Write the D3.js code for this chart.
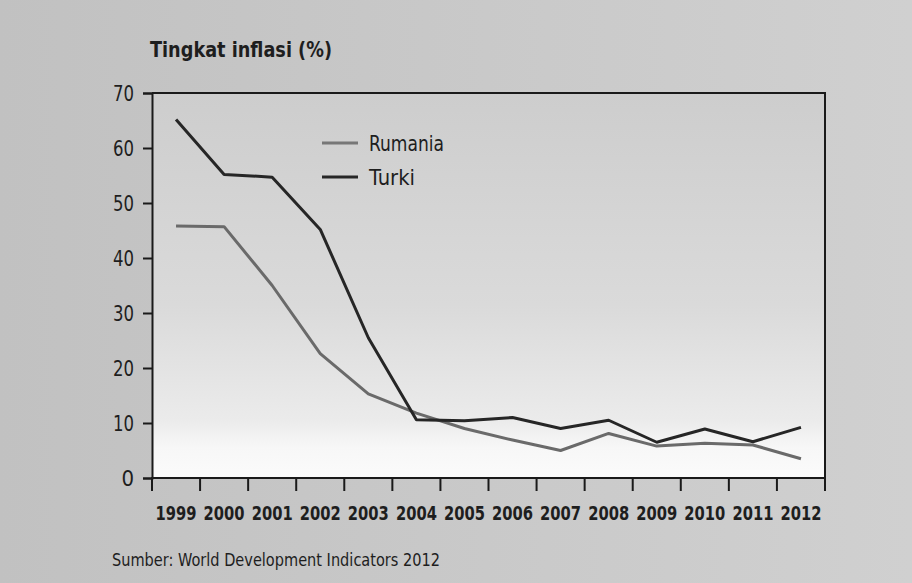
<!DOCTYPE html>
<meta charset="utf-8">
<style>
  body { margin: 0; background: #c8c8c8; }
  text { font-family: "DejaVu Sans Condensed", "DejaVu Sans", sans-serif; font-stretch: condensed; fill: #1e1e1e; }
</style>
<body>
  <div id="chart"></div>
  <script src="https://d3js.org/d3.v7.min.js"></script>
  <script>
    // data
    var years = ["1999", "2000", "2001", "2002", "2003", "2004", "2005", "2006", "2007", "2008", "2009", "2010", "2011", "2012"];
    var rumania = [45.8, 45.7, 35.0, 22.6, 15.3, 11.8, 9.0, 6.9, 5.0, 8.1, 5.8, 6.3, 6.0, 3.5];
    var turki = [65.2, 55.2, 54.7, 45.2, 25.5, 10.6, 10.4, 11.0, 9.0, 10.5, 6.5, 8.9, 6.6, 9.2];
    var yTicks = [0, 10, 20, 30, 40, 50, 60, 70];

    var W = 912, H = 583;
    var margin = { top: 93, right: 87, bottom: 96, left: 152 };

    // squeeze a text to a width when the font runs wider (no condensed font here)
    function fit(sel, w) {
      sel.each(function() {
        if (this.getComputedTextLength() > w) {
          d3.select(this).attr("textLength", w).attr("lengthAdjust", "spacingAndGlyphs");
        }
      });
    }

    var svg = d3.select("#chart").append("svg")
      .attr("width", W)
      .attr("height", H);

    var defs = svg.append("defs");
    var bg = defs.append("linearGradient").attr("id", "bg")
      .attr("x1", 0).attr("y1", 0).attr("x2", 1).attr("y2", 0);
    bg.append("stop").attr("offset", "0%").attr("stop-color", "#c1c1c1");
    bg.append("stop").attr("offset", "100%").attr("stop-color", "#d0d0d0");

    var plotBg = defs.append("linearGradient").attr("id", "plotBg")
      .attr("x1", 0).attr("y1", 0).attr("x2", 0).attr("y2", 1);
    plotBg.append("stop").attr("offset", "0%").attr("stop-color", "#cdcdcd");
    plotBg.append("stop").attr("offset", "55%").attr("stop-color", "#dadada");
    plotBg.append("stop").attr("offset", "85%").attr("stop-color", "#ebebeb");
    plotBg.append("stop").attr("offset", "92%").attr("stop-color", "#f7f7f7");
    plotBg.append("stop").attr("offset", "100%").attr("stop-color", "#fbfbfb");

    svg.append("rect")
      .attr("width", W).attr("height", H)
      .attr("fill", "url(#bg)");

    var x = d3.scaleBand()
      .domain(years)
      .range([margin.left, W - margin.right]);

    var y = d3.scaleLinear()
      .domain([0, 70])
      .range([H - margin.bottom - 9, margin.top]);

    var cx = function(i) { return x(years[i]) + x.bandwidth() / 2; };

    // plot area
    svg.append("rect")
      .attr("x", x.range()[0])
      .attr("y", y(70))
      .attr("width", x.range()[1] - x.range()[0])
      .attr("height", y(0) - y(70))
      .attr("fill", "url(#plotBg)");

    // frame: top + right
    svg.append("path")
      .attr("d", "M" + x.range()[0] + "," + y(70) + "H" + x.range()[1] + "V" + y(0))
      .attr("fill", "none")
      .attr("stroke", "#1a1a1a")
      .attr("stroke-width", 2);

    // Y axis
    var yAxis = svg.append("g")
      .attr("transform", "translate(" + x.range()[0] + ",0)")
      .call(d3.axisLeft(y).tickValues(yTicks).tickSize(9).tickPadding(9));
    yAxis.select(".domain").attr("stroke", "#1a1a1a").attr("stroke-width", 2);
    yAxis.selectAll(".tick line").attr("stroke", "#1a1a1a").attr("stroke-width", 2);
    yAxis.selectAll("text")
      .style("font-family", null)
      .style("font-size", "22px")
      .attr("fill", "#2a2a2a")
      .call(fit, 21);

    // X axis: line, ticks on band edges, labels in band centres
    var xAxis = svg.append("g")
      .attr("transform", "translate(0," + y(0) + ")")
      .call(d3.axisBottom(x).tickSize(0).tickPadding(28));
    xAxis.select(".domain")
      .attr("d", "M" + x.range()[0] + ",0H" + x.range()[1])
      .attr("stroke", "#1a1a1a").attr("stroke-width", 2);
    xAxis.selectAll("text")
      .style("font-family", null)
      .style("font-size", "20px")
      .style("font-weight", "bold")
      .attr("fill", "#1a1a1a")
      .call(fit, 41);
    xAxis.selectAll(".edge")
      .data(d3.range(years.length + 1))
      .enter().append("line")
      .attr("class", "edge")
      .attr("x1", function(i) { return x.range()[0] + i * x.step(); })
      .attr("x2", function(i) { return x.range()[0] + i * x.step(); })
      .attr("y1", -1)
      .attr("y2", 13)
      .attr("stroke", "#1a1a1a")
      .attr("stroke-width", 2);

    // lines
    var line = d3.line()
      .x(function(d, i) { return cx(i); })
      .y(function(d) { return y(d); });

    svg.append("path")
      .datum(rumania)
      .attr("d", line)
      .attr("fill", "none")
      .attr("stroke", "#6a6a6a")
      .attr("stroke-width", 3)
      .attr("stroke-linejoin", "round");

    svg.append("path")
      .datum(turki)
      .attr("d", line)
      .attr("fill", "none")
      .attr("stroke", "#262626")
      .attr("stroke-width", 3)
      .attr("stroke-linejoin", "round");

    // legend
    var legend = [
      { name: "Rumania", color: "#777777" },
      { name: "Turki", color: "#262626" }
    ];
    var lg = svg.append("g").attr("transform", "translate(322,143)");
    legend.forEach(function(d, i) {
      lg.append("line")
        .attr("x1", 0).attr("x2", 36)
        .attr("y1", i * 34).attr("y2", i * 34)
        .attr("stroke", d.color)
        .attr("stroke-width", 3);
      lg.append("text")
        .attr("x", 47)
        .attr("y", i * 34)
        .attr("dy", "0.35em")
        .style("font-size", "22px")
        .attr("fill", "#2a2a2a")
        .text(d.name)
        .call(fit, i === 0 ? 75 : 46);
    });

    // title
    svg.append("text")
      .attr("x", 150)
      .attr("y", 57)
      .style("font-size", "22px")
      .style("font-weight", "bold")
      .text("Tingkat inflasi (%)")
      .call(fit, 182);

    // source
    svg.append("text")
      .attr("x", 112)
      .attr("y", 566)
      .style("font-size", "17px")
      .attr("fill", "#444444")
      .text("Sumber: World Development Indicators 2012")
      .call(fit, 328);
  </script>
</body>
